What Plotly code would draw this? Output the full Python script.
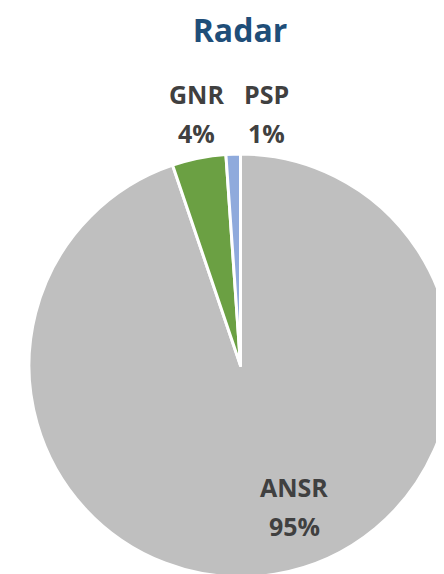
import plotly.graph_objects as go

# slice data
labels = ["ANSR", "GNR", "PSP"]
values = [94.8, 4.1, 1.1]
colors = ["#BFBFBF", "#6BA043", "#8FAADC"]

# where each data label block is centred (paper coords)
label_x = [286 / 444, 188 / 444, 258 / 444]
label_y = [1 - 498 / 574, 1 - 105.5 / 574, 1 - 105.5 / 574]

total = sum(values)

fig = go.Figure(
    go.Pie(
        labels=labels,
        values=values,
        sort=False,
        direction="clockwise",
        rotation=0,
        marker={"colors": colors, "line": {"color": "white", "width": 3}},
        textinfo="none",
        hoverinfo="label+percent",
        domain={"x": [21 / 444, 1.0], "y": [5 / 574, 428 / 574]},
        showlegend=False,
    )
)

label_font = {"family": "Open Sans", "size": 25, "color": "#404040"}
for lab, val, x, y in zip(labels, values, label_x, label_y):
    pct = round(val / total * 100)
    # name and percentage on two lines, Excel-like spacing
    for txt, shift in ((lab, 19.5), (f"{pct}%", -19.5)):
        fig.add_annotation(
            x=x,
            y=y,
            xref="paper",
            yref="paper",
            yshift=shift,
            text=f"<b>{txt}</b>",
            showarrow=False,
            font=label_font,
            xanchor="center",
            yanchor="middle",
        )

fig.update_layout(
    width=444,
    height=574,
    margin={"l": 0, "r": 0, "t": 0, "b": 0},
    paper_bgcolor="white",
    plot_bgcolor="white",
    title={
        "text": "<b>Radar</b>",
        "x": 232 / 444,
        "y": 1 - 23 / 574,
        "xanchor": "center",
        "yanchor": "middle",
        "font": {"family": "Open Sans", "size": 32, "color": "#1F4E79"},
    },
)

fig.write_html("out.html")
